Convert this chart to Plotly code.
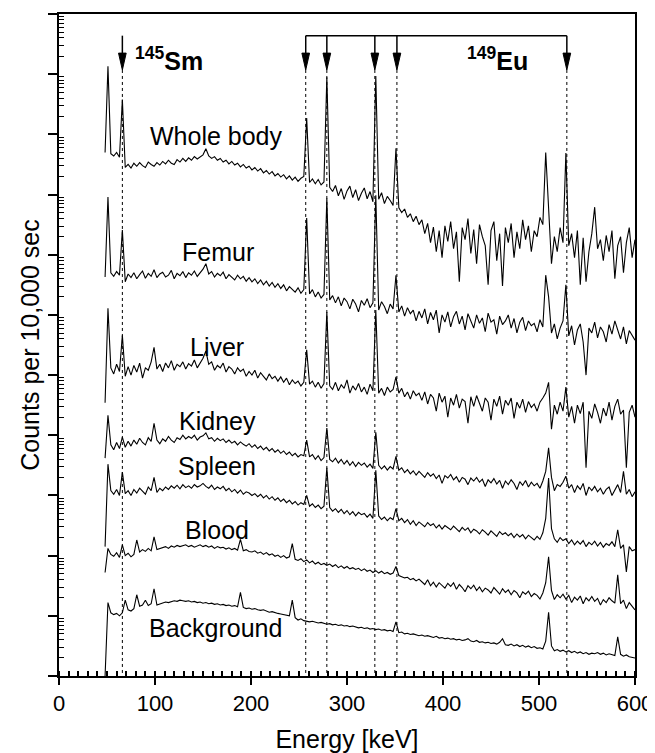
import plotly.graph_objects as go

# Energy channels [keV]
energy = list(range(48, 601, 3))

# Spectra, values in decades (log10 of offset counts), one value per channel
whole_body = [
    8.70, 10.13, 8.68, 8.64, 8.70, 8.62, 9.58, 8.45, 8.50, 8.44,
    8.52, 8.47, 8.53, 8.48, 8.45, 8.54, 8.50, 8.47, 8.53, 8.49,
    8.55, 8.51, 8.57, 8.52, 8.50, 8.58, 8.54, 8.60, 8.55, 8.61,
    8.57, 8.63, 8.59, 8.62, 8.66, 8.76, 8.64, 8.60, 8.63, 8.57,
    8.60, 8.54, 8.57, 8.51, 8.55, 8.49, 8.52, 8.46, 8.50, 8.44,
    8.47, 8.41, 8.45, 8.39, 8.43, 8.36, 8.40, 8.34, 8.38, 8.31,
    8.35, 8.29, 8.33, 8.26, 8.31, 8.24, 8.29, 8.22, 8.27, 8.30,
    9.27, 8.20, 8.26, 8.18, 8.25, 8.16, 8.21, 9.95, 8.12, 8.05,
    8.15, 7.98, 8.10, 7.92, 8.06, 8.14, 7.95, 8.08, 7.90, 8.02,
    8.11, 7.93, 8.05, 7.88, 9.97, 7.92, 8.03, 7.85, 7.97, 7.90,
    7.82, 8.77, 7.78, 7.70, 7.76, 7.62, 7.68, 7.55, 7.64, 7.50,
    7.58, 7.35, 7.52, 7.20, 7.46, 7.05, 7.40, 6.95, 7.48, 7.22,
    7.55, 7.10, 7.38, 6.55, 7.45, 7.25, 7.60, 7.02, 7.42, 6.85,
    7.50, 7.30, 7.15, 6.50, 7.40, 7.55, 6.90, 7.35, 6.48, 7.45,
    7.20, 7.52, 6.95, 7.38, 7.10, 7.58, 7.25, 7.48, 7.05, 7.40,
    7.30, 7.62, 7.50, 8.70, 7.85, 6.85, 7.30, 7.05, 7.45, 7.20,
    8.69, 7.15, 7.35, 6.95, 7.40, 6.50, 7.28, 6.55, 7.05, 7.35,
    7.79, 7.10, 7.25, 6.90, 7.32, 7.05, 7.40, 6.60, 7.15, 7.30,
    6.70, 7.20, 7.45, 6.95, 7.25,
]
femur = [
    6.63, 7.96, 6.70, 6.64, 6.72, 6.66, 7.41, 6.55, 6.68, 6.62,
    6.70, 6.60, 6.67, 6.73, 6.61, 6.69, 6.64, 6.75, 6.62, 6.68,
    6.71, 6.63, 6.66, 6.74, 6.60, 6.69, 6.65, 6.72, 6.62, 6.70,
    6.66, 6.73, 6.64, 6.70, 6.76, 6.85, 6.68, 6.72, 6.63, 6.69,
    6.65, 6.71, 6.60, 6.67, 6.62, 6.58, 6.66, 6.60, 6.64, 6.56,
    6.62, 6.55, 6.60, 6.52, 6.58, 6.50, 6.56, 6.48, 6.54, 6.46,
    6.52, 6.44, 6.50, 6.40, 6.47, 6.42, 6.38, 6.45, 6.36, 6.42,
    7.61, 6.35, 6.42, 6.30, 6.38, 6.28, 6.34, 7.94, 6.25, 6.32,
    6.20, 6.30, 6.15, 6.28, 6.22, 6.10, 6.26, 6.18, 6.05, 6.24,
    6.16, 6.27, 6.12, 6.20, 7.99, 6.08, 6.22, 6.14, 6.02, 6.18,
    6.10, 6.66, 6.05, 6.15, 5.98, 6.12, 6.02, 6.08, 5.90, 6.06,
    5.95, 6.10, 5.85, 6.04, 5.92, 6.08, 5.70, 6.00, 5.88, 6.05,
    5.80, 5.97, 6.06, 5.85, 5.98, 5.75, 6.02, 5.90, 5.78, 6.00,
    5.86, 5.95, 5.72, 6.03, 5.88, 5.92, 5.68, 5.98, 5.84, 5.90,
    6.00, 5.78, 5.94, 5.70, 5.88, 5.96, 5.74, 5.90, 5.82, 5.86,
    5.72, 5.92, 5.80, 6.66, 6.30, 5.70, 5.85, 5.60, 5.78, 5.90,
    6.50, 5.65, 5.82, 5.50, 5.75, 5.85, 5.55, 5.00, 5.78, 5.70,
    5.88, 5.62, 5.80, 5.72, 5.55, 5.84, 5.68, 5.90, 5.75, 5.60,
    5.80, 5.52, 5.74, 5.66, 5.58,
]
liver = [
    4.54, 6.11, 5.12, 5.02, 5.18, 5.06, 5.66, 4.98, 5.14, 5.00,
    5.16, 5.05, 5.20, 4.95, 5.12, 5.08, 5.22, 5.46, 5.10, 5.18,
    5.06, 5.20, 5.12, 5.24, 5.08, 5.18, 5.14, 5.22, 5.10, 5.19,
    5.15, 5.25, 5.12, 5.20, 5.28, 5.40, 5.18, 5.22, 5.08, 5.16,
    5.12, 5.20, 5.05, 5.14, 5.10, 5.02, 5.12, 5.06, 5.10, 4.98,
    5.06, 5.00, 5.08, 4.95, 5.04, 4.98, 4.92, 5.02, 4.94, 4.98,
    4.90, 4.97, 4.88, 4.95, 4.84, 4.92, 4.86, 4.90, 4.82, 4.88,
    5.42, 4.85, 4.90, 4.80, 4.88, 4.78, 4.86, 6.05, 4.82, 4.76,
    4.88, 4.74, 4.84, 4.78, 4.92, 4.70, 4.82, 4.75, 4.86, 4.72,
    4.80, 4.68, 4.85, 4.74, 6.08, 4.70, 4.78, 4.66, 4.80, 4.72,
    4.76, 4.97, 4.70, 4.78, 4.64, 4.72, 4.60, 4.74, 4.66, 4.70,
    4.58, 4.72, 4.52, 4.68, 4.62, 4.40, 4.70, 4.55, 4.65, 4.30,
    4.62, 4.50, 4.68, 4.45, 4.60, 4.56, 4.20, 4.64, 4.48, 4.66,
    4.52, 4.40, 4.62, 4.55, 4.25, 4.60, 4.48, 4.65, 4.35, 4.58,
    4.50, 4.62, 4.28, 4.55, 4.45, 4.60, 4.38, 4.56, 4.46, 4.52,
    4.40, 4.55, 4.62, 4.70, 4.88, 4.10, 4.50, 4.35, 4.55, 4.40,
    4.80, 4.30, 4.48, 4.20, 4.50, 4.36, 4.55, 3.46, 4.40, 4.28,
    4.52, 4.38, 4.20, 4.45, 4.32, 4.55, 4.25, 4.48, 4.60, 4.35,
    4.42, 3.46, 4.38, 4.50, 4.30,
]
kidney = [
    3.62, 4.33, 3.84, 3.76, 3.88, 3.78, 3.97, 3.80, 3.90, 3.82,
    3.92, 3.85, 3.95, 3.88, 3.84, 3.96, 3.90, 4.20, 3.92, 3.86,
    3.94, 3.90, 3.98, 3.92, 3.88, 3.96, 3.93, 4.00, 3.94, 3.98,
    3.95, 4.00, 3.92, 3.97, 3.99, 4.04, 3.94, 3.96, 3.90, 3.95,
    3.91, 3.94, 3.88, 3.92, 3.87, 3.90, 3.84, 3.89, 3.85, 3.82,
    3.86, 3.80, 3.84, 3.78, 3.82, 3.76, 3.80, 3.74, 3.78, 3.72,
    3.76, 3.70, 3.74, 3.68, 3.72, 3.66, 3.70, 3.64, 3.68, 3.66,
    3.92, 3.64, 3.68, 3.60, 3.66, 3.58, 3.63, 4.12, 3.60, 3.56,
    3.62, 3.54, 3.60, 3.52, 3.58, 3.50, 3.56, 3.48, 3.55, 3.50,
    3.54, 3.47, 3.52, 3.45, 4.05, 3.50, 3.44, 3.49, 3.42, 3.48,
    3.44, 3.65, 3.42, 3.46, 3.38, 3.43, 3.36, 3.41, 3.34, 3.40,
    3.35, 3.30, 3.38, 3.32, 3.36, 3.28, 3.34, 3.20, 3.33, 3.29,
    3.35, 3.26, 3.31, 3.22, 3.30, 3.27, 3.18, 3.29, 3.24, 3.30,
    3.22, 3.27, 3.15, 3.26, 3.21, 3.28, 3.19, 3.25, 3.12, 3.24,
    3.18, 3.26, 3.20, 3.10, 3.23, 3.17, 3.25, 3.14, 3.22, 3.16,
    3.20, 3.12, 3.24, 3.40, 3.79, 3.30, 3.08, 3.18, 3.15, 3.22,
    3.32, 3.12, 3.18, 3.05, 3.16, 3.10, 3.20, 3.00, 3.14, 3.08,
    3.15, 3.06, 3.12, 3.02, 3.10, 3.14, 3.00, 3.08, 3.18, 3.05,
    3.40, 3.02, 3.10, 2.98, 3.06,
]
spleen = [
    2.15, 3.52, 3.08, 3.02, 3.10, 3.00, 3.39, 3.03, 3.08, 3.00,
    3.10, 3.04, 3.12, 3.06, 3.02, 3.14, 3.08, 3.30, 3.05, 3.12,
    3.08, 3.14, 3.10, 3.16, 3.12, 3.17, 3.11, 3.18, 3.13, 3.16,
    3.12, 3.18, 3.14, 3.16, 3.20, 3.15, 3.12, 3.17, 3.10, 3.14,
    3.11, 3.15, 3.08, 3.12, 3.06, 3.10, 3.04, 3.09, 3.02, 3.06,
    3.04, 3.00, 3.03, 2.98, 3.02, 2.96, 3.00, 2.94, 2.98, 2.92,
    2.96, 2.90, 2.94, 2.88, 2.92, 2.86, 2.90, 2.84, 2.88, 2.85,
    3.00, 2.82, 2.86, 2.80, 2.84, 2.78, 2.82, 3.46, 2.80, 2.74,
    2.78, 2.72, 2.77, 2.70, 2.75, 2.68, 2.73, 2.66, 2.72, 2.68,
    2.70, 2.64, 2.69, 2.62, 3.42, 2.66, 2.60, 2.64, 2.58, 2.63,
    2.60, 2.78, 2.58, 2.62, 2.55, 2.60, 2.52, 2.58, 2.50, 2.56,
    2.52, 2.48, 2.55, 2.50, 2.53, 2.46, 2.51, 2.44, 2.50, 2.47,
    2.43, 2.49, 2.45, 2.40, 2.47, 2.42, 2.46, 2.38, 2.44, 2.41,
    2.36, 2.43, 2.39, 2.34, 2.41, 2.37, 2.32, 2.40, 2.35, 2.38,
    2.33, 2.37, 2.30, 2.36, 2.31, 2.35, 2.28, 2.34, 2.30, 2.26,
    2.32, 2.27, 2.38, 2.62, 3.29, 2.45, 2.28, 2.22, 2.30, 2.25,
    2.28, 2.20, 2.26, 2.18, 2.24, 2.19, 2.25, 2.15, 2.22, 2.18,
    2.24, 2.16, 2.22, 2.14, 2.20, 2.17, 2.23, 2.15, 2.43, 2.12,
    2.18, 1.73, 2.15, 2.08, 2.10,
]
blood = [
    1.72, 2.12, 2.02, 1.99, 2.05, 1.97, 2.18, 2.00, 2.04, 1.98,
    2.02, 2.26, 2.06, 2.10, 2.07, 2.12, 2.08, 2.31, 2.10, 2.12,
    2.13, 2.15, 2.12, 2.16, 2.14, 2.17, 2.15, 2.16, 2.18, 2.15,
    2.17, 2.14, 2.16, 2.18, 2.15, 2.17, 2.14, 2.16, 2.12, 2.15,
    2.13, 2.14, 2.11, 2.13, 2.10, 2.12, 2.09, 2.27, 2.08, 2.10,
    2.07, 2.06, 2.08, 2.04, 2.06, 2.02, 2.05, 2.01, 2.03, 1.99,
    2.01, 1.97, 2.00, 1.96, 1.98, 2.20, 1.94, 1.92, 1.95, 1.90,
    1.93, 1.88, 1.91, 1.86, 1.89, 1.85, 1.87, 1.84, 1.86, 1.82,
    1.85, 1.80, 1.83, 1.79, 1.82, 1.78, 1.80, 1.77, 1.79, 1.75,
    1.78, 1.74, 1.76, 1.72, 1.75, 1.71, 1.74, 1.70, 1.72, 1.69,
    1.71, 1.82, 1.67, 1.65, 1.63, 1.64, 1.60, 1.62, 1.58, 1.61,
    1.57, 1.52, 1.60, 1.50, 1.56, 1.48, 1.55, 1.51, 1.46, 1.54,
    1.49, 1.55, 1.44, 1.52, 1.47, 1.40, 1.50, 1.45, 1.51, 1.42,
    1.48, 1.40, 1.46, 1.43, 1.38, 1.47, 1.41, 1.36, 1.45, 1.39,
    1.43, 1.35, 1.42, 1.38, 1.30, 1.40, 1.36, 1.41, 1.32, 1.37,
    1.34, 1.28, 1.38, 1.55, 1.98, 1.42, 1.27, 1.35, 1.30, 1.36,
    1.28, 1.34, 1.22, 1.31, 1.26, 1.33, 1.20, 1.30, 1.25, 1.32,
    1.24, 1.29, 1.18, 1.27, 1.22, 1.30, 1.25, 1.21, 1.68, 1.20,
    1.26, 1.12, 1.22, 1.16, 1.10,
]
background = [
    0.00, 1.22, 1.05, 1.02, 1.04, 1.00, 1.05, 1.26, 1.10, 1.08,
    1.12, 1.35, 1.16, 1.18, 1.26, 1.17, 1.20, 1.45, 1.18, 1.20,
    1.21, 1.23, 1.22, 1.24, 1.25, 1.24, 1.26, 1.25, 1.24, 1.25,
    1.23, 1.24, 1.22, 1.23, 1.21, 1.22, 1.20, 1.21, 1.19, 1.20,
    1.18, 1.19, 1.17, 1.18, 1.16, 1.17, 1.15, 1.39, 1.14, 1.12,
    1.13, 1.11, 1.12, 1.10, 1.09, 1.10, 1.08, 1.06, 1.07, 1.05,
    1.04, 1.03, 1.02, 1.01, 1.00, 1.26, 0.97, 0.93, 0.95, 0.92,
    0.91, 0.90, 0.91, 0.89, 0.88, 0.89, 0.87, 0.86, 0.87, 0.85,
    0.86, 0.84, 0.85, 0.83, 0.84, 0.82, 0.83, 0.81, 0.80, 0.81,
    0.79, 0.80, 0.78, 0.79, 0.77, 0.78, 0.76, 0.77, 0.75, 0.76,
    0.74, 0.90, 0.72, 0.73, 0.70, 0.71, 0.69, 0.70, 0.68, 0.67,
    0.68, 0.66, 0.67, 0.65, 0.64, 0.66, 0.63, 0.64, 0.62, 0.63,
    0.61, 0.62, 0.60, 0.61, 0.59, 0.60, 0.62, 0.58, 0.57, 0.59,
    0.56, 0.57, 0.55, 0.56, 0.54, 0.55, 0.53, 0.56, 0.62, 0.52,
    0.51, 0.53, 0.50, 0.52, 0.49, 0.51, 0.48, 0.50, 0.47, 0.49,
    0.46, 0.47, 0.45, 0.58, 1.06, 0.50, 0.42, 0.44, 0.41, 0.43,
    0.40, 0.42, 0.39, 0.41, 0.38, 0.40, 0.37, 0.39, 0.36, 0.38,
    0.37, 0.39, 0.36, 0.38, 0.35, 0.37, 0.36, 0.34, 0.65, 0.36,
    0.33, 0.35, 0.32, 0.31, 0.30,
]

spectrum_names = ["Whole body", "Femur", "Liver", "Kidney", "Spleen", "Blood", "Background"]
spectra = [whole_body, femur, liver, kidney, spleen, blood, background]

# Gamma lines marked by arrows [keV]
sm_lines = [66]
eu_lines = [257, 279, 329, 352, 529]

# Label placement (energy of left edge, decade of centre)
label_x = [93, 126, 134, 123, 122, 129, 92]
label_y = [8.97, 7.04, 5.47, 4.24, 3.49, 2.43, 0.80]

FONT = "Arial, Liberation Sans, sans-serif"
BLACK = "#000000"

fig = go.Figure()

# dotted guide lines
all_lines = sm_lines + eu_lines
arrow_tip, arrow_base, arrow_top = 10.07, 10.35, 10.64
dx, dy = [], []
for e in all_lines:
    dx += [e, e, None]
    dy += [10 ** arrow_tip, 10 ** 0, None]
fig.add_trace(go.Scatter(x=dx, y=dy, mode="lines",
                         line=dict(color=BLACK, width=1, dash="dot"),
                         hoverinfo="skip", showlegend=False))

# spectra
for name, vals in zip(spectrum_names, spectra):
    fig.add_trace(go.Scatter(x=energy, y=[10 ** v for v in vals], mode="lines",
                             name=name, line=dict(color=BLACK, width=1.1),
                             showlegend=False))

# arrow stems + bracket
sx, sy = [], []
for e in all_lines:
    sx += [e, e, None]
    sy += [10 ** arrow_top, 10 ** arrow_base, None]
sx += [min(eu_lines), max(eu_lines), None]
sy += [10 ** arrow_top, 10 ** arrow_top, None]
fig.add_trace(go.Scatter(x=sx, y=sy, mode="lines", line=dict(color=BLACK, width=1.5),
                         hoverinfo="skip", showlegend=False))

# arrow heads
hx, hy = [], []
for e in all_lines:
    hx += [e - 4, e + 4, e, e - 4, None]
    hy += [10 ** arrow_base, 10 ** arrow_base, 10 ** arrow_tip, 10 ** arrow_base, None]
fig.add_trace(go.Scatter(x=hx, y=hy, mode="lines", fill="toself", fillcolor=BLACK,
                         line=dict(color=BLACK, width=1),
                         hoverinfo="skip", showlegend=False))

annotations = []
for name, lx, ly in zip(spectrum_names, label_x, label_y):
    annotations.append(dict(x=lx, y=ly, xref="x", yref="y", text=name, showarrow=False,
                            xanchor="left", yanchor="middle",
                            font=dict(family=FONT, size=25, color=BLACK)))
annotations.append(dict(x=77, y=10.25, xref="x", yref="y", text="<b><sup>145</sup>Sm</b>",
                        showarrow=False, xanchor="left", yanchor="middle",
                        font=dict(family=FONT, size=25, color=BLACK)))
annotations.append(dict(x=423, y=10.25, xref="x", yref="y", text="<b><sup>149</sup>Eu</b>",
                        showarrow=False, xanchor="left", yanchor="middle",
                        font=dict(family=FONT, size=25, color=BLACK)))

minor_y = [k * 10 ** n for n in range(11) for k in range(2, 10)]

# The page body has an 8 px default margin: size the figure so it fills the window.
fig.update_layout(
    width=647, height=745,
    margin=dict(l=51, r=20, t=6, b=77, autoexpand=False),
    paper_bgcolor="white", plot_bgcolor="white",
    font=dict(family=FONT, color=BLACK),
    annotations=annotations,
    showlegend=False,
    xaxis=dict(
        range=[0, 600], tickmode="array", tickvals=[0, 100, 200, 300, 400, 500, 600],
        ticks="outside", ticklen=7, tickwidth=1.5, tickcolor=BLACK,
        showline=True, linewidth=2, linecolor=BLACK, mirror=True,
        showgrid=False, zeroline=False,
        tickfont=dict(family=FONT, size=22, color=BLACK),
        minor=dict(dtick=10, tick0=0, ticks="inside", ticklen=5, tickwidth=1.5,
                   tickcolor=BLACK, showgrid=False),
        title=dict(text="Energy [keV]", font=dict(family=FONT, size=25, color=BLACK),
                   standoff=15),
        automargin=False,
    ),
    yaxis=dict(
        type="log", range=[0, 11], tickmode="array",
        tickvals=[10 ** n for n in range(12)],
        ticks="outside", ticklen=9, tickwidth=1.5, tickcolor=BLACK,
        showticklabels=False,
        showline=True, linewidth=2, linecolor=BLACK, mirror=True,
        showgrid=False, zeroline=False,
        minor=dict(tickmode="array", tickvals=minor_y, ticks="inside", ticklen=5,
                   tickwidth=1, tickcolor=BLACK, showgrid=False),
        title=dict(text="Counts per 10,000 sec", font=dict(family=FONT, size=25, color=BLACK),
                   standoff=1),
        automargin=False,
    ),
)

fig.write_html("out.html")
